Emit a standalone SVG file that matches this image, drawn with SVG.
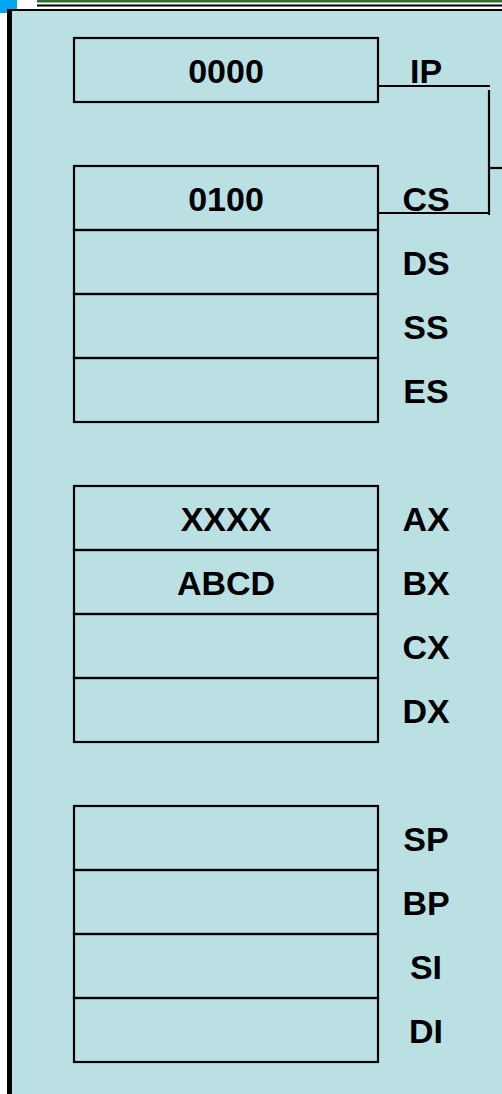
<svg xmlns="http://www.w3.org/2000/svg" width="502" height="1094" viewBox="0 0 502 1094">
  <style>
    .reg { fill: none; stroke: #000; stroke-width: 2.2; }
    .val { font-family: "Liberation Sans", Arial, sans-serif; font-weight: bold; font-size: 34px; text-anchor: middle; fill: #000; }
    .name { font-family: "Liberation Sans", Arial, sans-serif; font-weight: bold; font-size: 34px; text-anchor: middle; fill: #000; }
    .wire { fill: none; stroke: #000; stroke-width: 2.2; }
  </style>

  <!-- page background and frame edges -->
  <rect x="0" y="0" width="502" height="1094" fill="#ffffff"/>
  <rect x="0" y="0" width="17" height="13" fill="#00A6EE"/>
  <rect x="37" y="0" width="465" height="2.5" fill="#2F6B30"/>
  <rect x="37" y="4.5" width="465" height="2" fill="#000"/>

  <!-- main panel -->
  <rect x="7" y="9" width="500" height="1090" fill="#BAE0E4"/>
  <rect x="7" y="9" width="5" height="1090" fill="#000"/>
  <rect x="7" y="9" width="500" height="2" fill="#000"/>

  <!-- instruction pointer -->
  <g id="ip">
    <rect class="reg" x="74" y="38" width="304" height="64"/>
    <text class="val" x="226" y="83">0000</text>
    <text class="name" x="426" y="83">IP</text>
  </g>

  <!-- segment registers -->
  <g id="cs">
    <rect class="reg" x="74" y="166" width="304" height="64"/>
    <text class="val" x="226" y="211">0100</text>
    <text class="name" x="426" y="211">CS</text>
  </g>
  <g id="ds">
    <rect class="reg" x="74" y="230" width="304" height="64"/>
    <text class="name" x="426" y="275">DS</text>
  </g>
  <g id="ss">
    <rect class="reg" x="74" y="294" width="304" height="64"/>
    <text class="name" x="426" y="339">SS</text>
  </g>
  <g id="es">
    <rect class="reg" x="74" y="358" width="304" height="64"/>
    <text class="name" x="426" y="403">ES</text>
  </g>

  <!-- general purpose registers -->
  <g id="ax">
    <rect class="reg" x="74" y="486" width="304" height="64"/>
    <text class="val" x="226" y="531">XXXX</text>
    <text class="name" x="426" y="531">AX</text>
  </g>
  <g id="bx">
    <rect class="reg" x="74" y="550" width="304" height="64"/>
    <text class="val" x="226" y="595">ABCD</text>
    <text class="name" x="426" y="595">BX</text>
  </g>
  <g id="cx">
    <rect class="reg" x="74" y="614" width="304" height="64"/>
    <text class="name" x="426" y="659">CX</text>
  </g>
  <g id="dx">
    <rect class="reg" x="74" y="678" width="304" height="64"/>
    <text class="name" x="426" y="723">DX</text>
  </g>

  <!-- pointer and index registers -->
  <g id="sp">
    <rect class="reg" x="74" y="806" width="304" height="64"/>
    <text class="name" x="426" y="851">SP</text>
  </g>
  <g id="bp">
    <rect class="reg" x="74" y="870" width="304" height="64"/>
    <text class="name" x="426" y="915">BP</text>
  </g>
  <g id="si">
    <rect class="reg" x="74" y="934" width="304" height="64"/>
    <text class="name" x="426" y="979">SI</text>
  </g>
  <g id="di">
    <rect class="reg" x="74" y="998" width="304" height="64"/>
    <text class="name" x="426" y="1043">DI</text>
  </g>

  <!-- CS:IP bracket -->
  <g id="connectors">
    <path class="wire" d="M378 86 H490"/>
    <path class="wire" d="M489 90 V215"/>
    <path class="wire" d="M378 213 H490"/>
    <path class="wire" d="M489 168 H502"/>
  </g>
</svg>
